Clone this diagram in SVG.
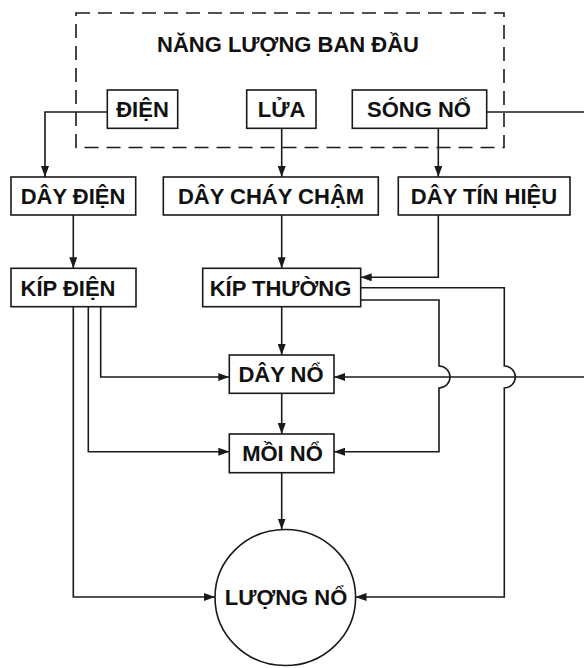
<svg xmlns="http://www.w3.org/2000/svg" width="584" height="668" viewBox="0 0 584 668">
<style>
.box{fill:#fff;stroke:#1a1a1a;stroke-width:1.6}
.t{font-family:"Liberation Sans",Arial,sans-serif;font-weight:bold;font-size:22px;fill:#111;text-anchor:middle}
.c{fill:none;stroke:#1a1a1a;stroke-width:1.6}
.a{marker-end:url(#ah)}
.dash{fill:none;stroke:#1a1a1a;stroke-width:1.6;stroke-dasharray:14 8}
</style>
<defs>
<marker id="ah" markerUnits="userSpaceOnUse" markerWidth="11" markerHeight="8" refX="11" refY="4" orient="auto">
<path d="M0,0 L11,4 L0,8 z" fill="#1a1a1a"/>
</marker>
</defs>
<rect width="584" height="668" fill="#fff"/>
<g id="initial-energy">
<rect class="dash" x="76" y="13" width="428" height="134.5"/>
<text class="t" x="288" y="52">NĂNG LƯỢNG BAN ĐẦU</text>
</g>
<g id="connectors">
<path class="c a" d="M107,112 H45 V177"/>
<path class="c" d="M486.7,112 H584"/>
<path class="c a" d="M281.7,128.3 V177"/>
<path class="c a" d="M438.3,128.3 V177"/>
<path class="c a" d="M73.3,215 V268.3"/>
<path class="c a" d="M281.7,215 V268.3"/>
<path class="c a" d="M438.3,215 V277.3 H360.7"/>
<path class="c a" d="M281.7,306.7 V355"/>
<path class="c a" d="M281.7,393.3 V434"/>
<path class="c a" d="M281.7,472.7 V529.5"/>
<path class="c a" d="M100.7,306.7 V377 H229.3"/>
<path class="c a" d="M88.3,306.7 V451.7 H229.3"/>
<path class="c a" d="M73.3,306.7 V597 H215"/>
<path class="c a" d="M584,377 H334"/>
<path class="c a" d="M360.7,300 H439 V366 A11 11 0 0 1 439 388 V451.7 H334"/>
<path class="c a" d="M360.7,287.7 H504.3 V366 A11 11 0 0 1 504.3 388 V597 H355.5"/>
</g>
<g id="dien">
<rect class="box" x="107.3" y="90" width="70.4" height="38.3"/>
<text class="t" x="142.5" y="117">ĐIỆN</text>
</g>
<g id="lua">
<rect class="box" x="246.7" y="90" width="69.3" height="38.3"/>
<text class="t" x="281.5" y="117">LỬA</text>
</g>
<g id="song-no">
<rect class="box" x="352.3" y="90" width="134.4" height="38.3"/>
<text class="t" x="419" y="117">SÓNG NỔ</text>
</g>
<g id="day-dien">
<rect class="box" x="11" y="177" width="124.7" height="38"/>
<text class="t" x="73" y="204">DÂY ĐIỆN</text>
</g>
<g id="day-chay-cham">
<rect class="box" x="163.3" y="177" width="215" height="38"/>
<text class="t" x="271" y="204">DÂY CHÁY CHẬM</text>
</g>
<g id="day-tin-hieu">
<rect class="box" x="398.3" y="177" width="171.7" height="38"/>
<text class="t" x="484" y="204">DÂY TÍN HIỆU</text>
</g>
<g id="kip-dien">
<rect class="box" x="11" y="268.3" width="125" height="38.4"/>
<text class="t" x="68" y="295.5">KÍP ĐIỆN</text>
</g>
<g id="kip-thuong">
<rect class="box" x="202.7" y="268.3" width="158" height="38.4"/>
<text class="t" x="280.5" y="295.5">KÍP THƯỜNG</text>
</g>
<g id="day-no">
<rect class="box" x="229.3" y="355" width="104.7" height="38.3"/>
<text class="t" x="281" y="382">DÂY NỔ</text>
</g>
<g id="moi-no">
<rect class="box" x="229.3" y="434" width="104.7" height="38.7"/>
<text class="t" x="282.5" y="461">MỒI NỔ</text>
</g>
<g id="luong-no">
<ellipse class="box" cx="285.3" cy="597.5" rx="70.3" ry="68"/>
<text class="t" x="286" y="605">LƯỢNG NỔ</text>
</g>
</svg>
